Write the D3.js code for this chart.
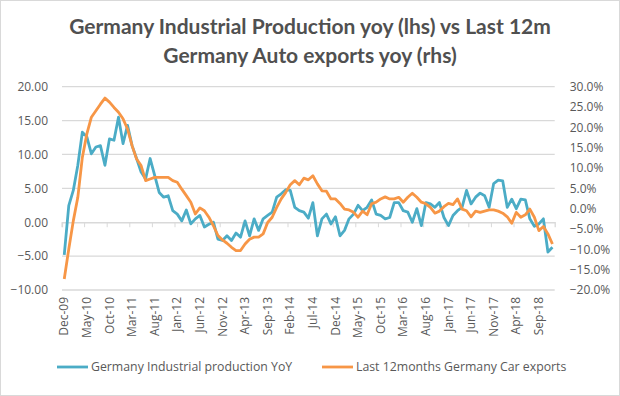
<!DOCTYPE html>
<html><head><meta charset="utf-8">
<script src="https://cdn.jsdelivr.net/npm/d3@7"></script>
<style>body{margin:0;background:#fff}svg{display:block}</style>
</head><body><svg id="c" width="620" height="396"></svg>
<script>
const startYear = 2009, startMonth = 11; // Dec-09
const ipYoY = [-4.8,2.45,4.7,8.4,13.3,12.6,10.1,11.1,11.3,8.4,12.3,12.1,15.5,11.6,14.3,11.3,9.4,7.4,6.4,9.4,6.9,4.4,3.7,3.9,1.7,1.2,0.2,1.8,-0.25,0.5,1.0,-0.7,-0.3,0.0,-2.5,-2.7,-2.0,-2.7,-1.6,-2.2,0.2,-2.0,0.5,-1.2,0.5,1.0,1.5,3.7,4.2,4.8,4.7,2.2,1.7,1.5,0.6,2.9,-2.0,0.5,1.2,-0.25,0.8,-2.0,-1.2,0.5,1.2,2.5,1.7,2.2,3.3,1.2,1.0,0.5,0.7,2.9,2.9,1.7,1.5,0.0,2.0,-0.5,2.9,2.7,2.2,2.9,0.7,-0.5,1.0,1.7,2.2,4.7,2.7,3.7,4.3,3.9,2.2,5.7,6.2,6.1,2.2,3.4,2.0,3.4,3.3,0.5,-0.6,-0.25,0.5,-4.4,-3.7];
const carExports = [-17.3,-9.9,-3.0,2.8,12.6,18.4,22.5,24.1,25.7,27.2,26.2,24.9,23.7,22.1,19.6,15.5,12.2,10.6,6.9,7.3,7.7,7.7,7.7,7.7,6.9,6.5,4.8,3.2,1.6,-1.3,0.2,-0.5,-2.1,-4.2,-6.6,-7.7,-8.5,-9.5,-10.3,-10.3,-8.7,-7.5,-7.0,-7.0,-6.2,-3.4,-2.1,0.3,2.4,4.0,5.9,6.9,5.9,7.5,7.1,8.1,6.1,4.4,4.3,2.4,2.4,1.3,-0.1,-0.3,-0.9,-2.1,-0.6,-1.5,1.2,1.6,2.4,2.9,2.4,2.4,2.8,1.6,2.8,3.8,2.8,1.6,1.2,0.3,-1.1,-0.6,0.5,1.3,1.0,2.4,-0.1,-0.5,-2.0,-0.6,-0.9,-0.6,-0.3,-0.3,-0.6,-1.1,-2.0,-3.6,-0.9,-2.1,-1.5,-0.1,-2.1,-5.4,-4.4,-6.2,-8.7];
const leftTicks = [20,15,10,5,0,-5,-10];
const rightTicks = [30,25,20,15,10,5,0,-5,-10,-15,-20];
const titleLines = ["Germany Industrial Production yoy (lhs) vs Last 12m","Germany Auto exports yoy (rhs)"];
const seriesNames = ["Germany  Industrial production YoY","Last 12months Germany Car exports"];
const mon = ["Jan","Feb","Mar","Apr","May","Jun","Jul","Aug","Sep","Oct","Nov","Dec"];
const categories = ipYoY.map((_,i)=>{const m=startMonth+i;const y=startYear+Math.floor(m/12);return mon[m%12]+"-"+String(y%100).padStart(2,"0");});

const svg = d3.select("#c");
const font = "'Open Sans', 'Liberation Sans', sans-serif";
const gray = "#595959";
svg.append("rect").attr("x",0.5).attr("y",0.5).attr("width",619).attr("height",395).attr("fill","#fff").attr("stroke","#d9d9d9");

const L=62, R=554.7, T=86.7, B=290;
const x = d3.scaleBand().domain(categories).range([L,R]);
const yL = d3.scaleLinear().domain([-10,20]).range([B,T]);
const yR = d3.scaleLinear().domain([-20,30]).range([B,T]);

// title
svg.append("g").selectAll("text").data(titleLines).join("text")
  .attr("x",310).attr("y",(d,i)=>34+i*29).attr("text-anchor","middle")
  .attr("font-family","Lato, 'Open Sans', sans-serif").attr("font-weight","bold").attr("font-size",21)
  .attr("fill","#505050").text(d=>d);

// gridlines
svg.append("g").selectAll("line").data(leftTicks.filter(d=>d!==0)).join("line")
  .attr("x1",L).attr("x2",R).attr("y1",d=>yL(d)).attr("y2",d=>yL(d))
  .attr("stroke","#d9d9d9").attr("stroke-width",1.3);

// left axis labels
const gl = svg.append("g").attr("transform",`translate(${L},0)`)
  .call(d3.axisLeft(yL).tickValues(leftTicks).tickSize(0).tickPadding(14).tickFormat(d3.format(".2f")));
gl.select(".domain").remove();
gl.selectAll("text").attr("font-family",font).attr("font-size",12).attr("fill",gray);

// right axis labels
const gr = svg.append("g").attr("transform",`translate(${R},0)`)
  .call(d3.axisRight(yR).tickValues(rightTicks).tickSize(0).tickPadding(15).tickFormat(d=>d3.format(".1f")(d)+"%"));
gr.select(".domain").remove();
gr.selectAll("text").attr("font-family",font).attr("font-size",12).attr("fill",gray);

// zero axis line with ticks
const tickCats = categories.filter((d,i)=>i%5===0);
const gz = svg.append("g").attr("transform",`translate(0,${yL(0)})`)
  .call(d3.axisBottom(x).tickValues(tickCats).tickSize(5).tickFormat(""));
gz.select(".domain").attr("stroke","#d9d9d9").attr("stroke-width",1.3);
gz.selectAll(".tick line").attr("stroke","#d9d9d9").attr("transform",`translate(${-x.bandwidth()/2},0)`);

// x labels at bottom
const gx = svg.append("g").attr("transform",`translate(0,${B})`)
  .call(d3.axisBottom(x).tickValues(tickCats).tickSize(0).tickFormat(d=>d));
gx.select(".domain").remove();
gx.selectAll("text").attr("font-family",font).attr("font-size",12).attr("fill",gray)
  .attr("transform","rotate(-90)").attr("text-anchor","end").attr("dy","0.35em").attr("y",0).attr("x",0)
  .attr("dx",-7);

// lines
const cx = d=>x(d)+x.bandwidth()/2;
const lineL = d3.line().x((d,i)=>cx(categories[i])).y(d=>yL(d));
const lineR = d3.line().x((d,i)=>cx(categories[i])).y(d=>yR(d));
svg.append("path").datum(ipYoY).attr("d",lineL).attr("fill","none").attr("stroke","#4bacc6").attr("stroke-width",2.8).attr("stroke-linejoin","round");
svg.append("path").datum(carExports).attr("d",lineR).attr("fill","none").attr("stroke","#f79646").attr("stroke-width",2.8).attr("stroke-linejoin","round");

// legend
const leg = [{n:seriesNames[0],c:"#4bacc6",x:57},{n:seriesNames[1],c:"#f79646",x:322}];
const lg = svg.append("g").selectAll("g").data(leg).join("g").attr("transform",d=>`translate(${d.x},367)`);
lg.append("line").attr("x1",0).attr("x2",31).attr("stroke",d=>d.c).attr("stroke-width",2.8);
lg.append("text").attr("x",34).attr("dy","0.35em").attr("font-family",font).attr("font-size",12.3).attr("fill",gray).text(d=>d.n);
</script></body></html>
